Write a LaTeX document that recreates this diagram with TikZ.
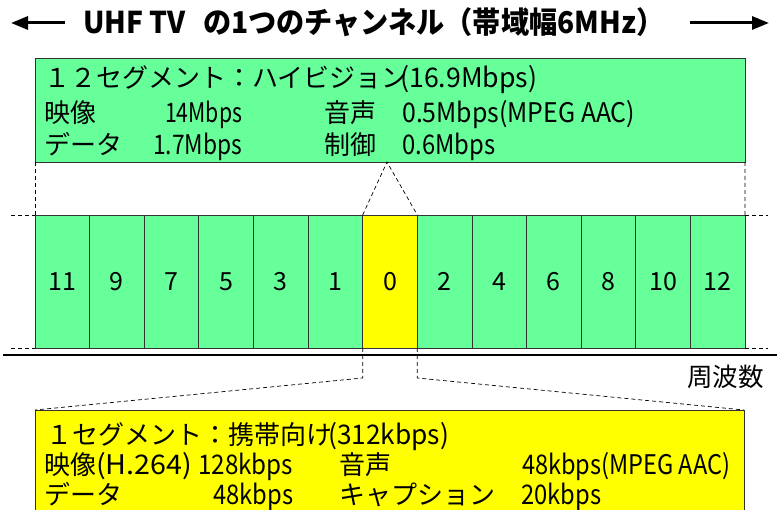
\documentclass[tikz,border=0pt]{standalone}
\usepackage{fontspec}
\usepackage{graphicx}
\setmainfont{Noto Sans CJK JP}
\usetikzlibrary{arrows.meta}
\definecolor{segg}{HTML}{66FF99}
\definecolor{segy}{HTML}{FFFF00}
\definecolor{bordc}{HTML}{333333}
\newsavebox\fitbox
\newcommand\fitw[2]{\sbox\fitbox{\fontsize{27}{27}\selectfont #2}\pgfmathsetmacro\fitfac{#1/\the\wd\fitbox}\scalebox{\fitfac}[1]{\usebox\fitbox}}
\newcommand\fitt[2]{\sbox\fitbox{#2}\pgfmathsetmacro\fitfac{#1/\the\wd\fitbox}\scalebox{\fitfac}[1]{\usebox\fitbox}}
\newcommand\myboxfont{\fontsize{26}{26}\selectfont}
\newcommand\mysegfont{\fontsize{25}{25}\selectfont}
\tikzset{
  segbox/.style={draw=bordc, line width=0.8pt, minimum width=54.615pt, minimum height=133pt, inner sep=0pt, outer sep=0pt, font=\mysegfont},
  infobox/.style={draw=bordc, line width=0.8pt, inner sep=0pt, outer sep=0pt},
  dsh/.style={draw=black, line width=0.7pt, dash pattern=on 4pt off 3pt},
  txt/.style={anchor=base west, inner sep=0pt, font=\myboxfont},
  bigarrow/.style={line width=3pt, -{Triangle[length=17pt,width=13pt]}},
}
\begin{document}
\begin{tikzpicture}[x=1pt,y=-1pt]
\useasboundingbox (0,0) rectangle (777,510);
% title
\coordinate (la0) at (65,23); \coordinate (la1) at (11,23);
\coordinate (ra0) at (690,23); \coordinate (ra1) at (769,23);
\draw[bigarrow] (la0) -- (la1);
\draw[bigarrow] (ra0) -- (ra1);
\node[anchor=base west, inner sep=0pt, font=\bfseries\fontsize{30}{30}\selectfont] (title) at (83,34)
  {\fitt{581}{UHF TV\hspace{0.6em}の1つのチャンネル（帯域幅6MHz）}};
% boxes
\node[infobox, fill=segg, minimum width=710pt, minimum height=104pt] (hd) at (390,110) {};
\node[infobox, fill=segy, minimum width=709pt, minimum height=130pt] (one) at (389.5,475) {};
% segments
\foreach \lab/\col [count=\i from 0] in {11/segg,9/segg,7/segg,5/segg,3/segg,1/segg,0/segy,2/segg,4/segg,6/segg,8/segg,10/segg,12/segg}
  \node[segbox, fill=\col] (s\lab) at ({35+54.615*(\i+0.5)},281.5) {\lab};
% axis
\coordinate (axl) at (3,355); \coordinate (axr) at (777,355);
\draw[line width=2.5pt] (axl) -- (axr);
% dashed guides
\coordinate (tl) at (11,215); \coordinate (bl) at (11,348);
\coordinate (tr) at (768,215); \coordinate (br) at (768,348);
\coordinate (apex) at (387,162);
\draw[dsh] (hd.south west) -- (s11.north west);
\draw[dsh] (hd.south east) -- (s12.north east);
\draw[dsh] (tl) -- (s11.north west);
\draw[dsh] (bl) -- (s11.south west);
\draw[dsh] (s12.north east) -- (tr);
\draw[dsh] (s12.south east) -- (br);
\draw[dsh] (s0.north west) -- (apex) -- (s0.north east);
\draw[dsh] (s0.south west) -- ++(0,30) -- (one.north west);
\draw[dsh] (s0.south east) -- ++(0,30) -- (one.north east);
% freq label
\node[anchor=base west, inner sep=0pt, font=\fontsize{25.5}{25.5}\selectfont] (freq) at (687,387) {周波数};
% green texts
\node[txt] (g1a) at (44,88) {１２セグメント：ハイビジョン};
\node[txt] (g1b) at (400,88) {\fitw{137}{(16.9Mbps)}};
\node[txt] (g2a) at (44,123) {映像};
\node[txt] (g2b) at (165,123) {\fitw{77}{14Mbps}};
\node[txt] (g2c) at (324,123) {音声};
\node[txt] (g2d) at (402,123) {\fitw{233}{0.5Mbps(MPEG AAC)}};
\node[txt] (g3a) at (44,155) {データ};
\node[txt] (g3b) at (153,155) {\fitw{89}{1.7Mbps}};
\node[txt] (g3c) at (324,155) {制御};
\node[txt] (g3d) at (402,155) {\fitw{93}{0.6Mbps}};
% yellow texts
\node[txt] (y1a) at (46,445) {１セグメント：携帯向け};
\node[txt] (y1b) at (328,445) {\fitw{121}{(312kbps)}};
\node[txt] (y2a) at (44,475) {映像\fitw{96}{(H.264)}};
\node[txt] (y2b) at (198,475) {\fitw{95}{128kbps}};
\node[txt] (y2c) at (339,475) {音声};
\node[txt] (y2d) at (522,475) {\fitw{208}{48kbps(MPEG AAC)}};
\node[txt] (y3a) at (44,505) {データ};
\node[txt] (y3b) at (213,505) {\fitw{80}{48kbps}};
\node[txt] (y3c) at (339,505) {キャプション};
\node[txt] (y3d) at (521,505) {\fitw{80}{20kbps}};
\end{tikzpicture}
\end{document}
